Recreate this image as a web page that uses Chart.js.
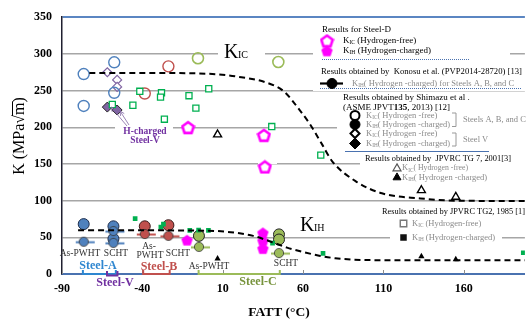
<!DOCTYPE html>
<html>
<head>
<meta charset="utf-8">
<script src="https://cdn.jsdelivr.net/npm/chart.js@4.4.0/dist/chart.umd.min.js"></script>
<style>
  html, body { margin: 0; padding: 0; background: #fff; }
</style>
</head>
<body>
<canvas id="kChart" width="532" height="323"></canvas>
<script>
// ── axes ──
const xTicks = [-90, -40, 10, 60, 110, 160];
const yTicks = [0, 50, 100, 150, 200, 250, 300, 350];

// ── Shimazu et al. (JPVT 2013): K_IC hydrogen-free (open) ──
const shimazuKicA = [[-76.5, 272.5], [-76.5, 229], [-57.5, 288.5], [-57.5, 247]];
const shimazuKicB = [[-38.5, 246], [-23.8, 283]];
const shimazuKicC = [[-5.4, 294], [44.6, 289]];
const shimazuKicV = [[-61.8, 275], [-55.7, 264.5], [-55.7, 255]];
// ── Shimazu et al.: K_IH hydrogen-charged (filled) ──
const shimazuKihA = [[-76.5, 68], [-58, 65], [-58, 48]];
const shimazuKihB = [[-38.5, 65], [-23.8, 66.5]];
const shimazuKihC = [[-4.8, 52], [45, 54], [45, 47]];
const shimazuKihV = [[-61.8, 227.5], [-55.7, 223.5]];
// ── Konosu et al. (PVP2014) K_IH ──
const konosuA = [[-76.5, 44], [-58, 58.5], [-58, 42.5]];
const konosuB = [[-38.5, 54.5], [-23.8, 52]];
const konosuC = [[-4.8, 37], [45, 28.5]];
// ── Steel-D ──
const steelDKic = [[-11.6, 199.5], [35.6, 189], [36.2, 146]];
const steelDKih = [[-12.2, 46], [35, 56], [35, 45], [35, 34.5]];
// ── JPVRC TG7 (2001) ──
const tg7Kic = [[6.8, 190], [133.6, 114], [155, 105]];
const tg7Kih = [[6.8, 21], [133.6, 24], [155, 20]];
// ── JPVRC TG2 (1985) ──
const tg2Kic = [[-58.7, 231], [-45.9, 230], [-41.6, 249], [-28.1, 247], [-28.7, 241], [-26.3, 211],
                [-11, 243], [-6.7, 226], [1.3, 252.5], [40.5, 201], [71, 162]];
const tg2Kih = [[-44.5, 75.5], [-28.5, 64], [-26.9, 68], [-10.5, 59.4], [-5, 59.8], [1.1, 59.4],
                [41, 42], [72.4, 28], [197, 29]];
// ── trend curves ──
const kicCurve = [[-73, 274], [-40, 274], [0, 273], [19, 269], [37, 261], [48, 249], [58, 223], [64, 205],
                  [72, 176], [78, 154], [93, 126], [109, 110], [133, 103], [154, 100], [198, 99.5]];
const kihCurve = [[-80, 59.5], [-40, 59.5], [0, 59], [15, 57], [29, 52], [40, 44], [50, 36], [60, 30],
                  [70, 25], [80, 21.5], [100, 19], [133, 18.6], [198, 18.6]];

const SERIF = '"Liberation Serif", "Times New Roman", serif';
const C = {
    blue: '#4f81bd', red: '#c0504d', olive: '#9bbb59', purple: '#8064a2',
    green: '#00b050', magenta: '#ff00ff', grid: '#a6a6a6', axisBlue: '#4a72b0'
};

const pts = a => a.map(p => ({ x: p[0], y: p[1] }));

// pentagon marker images
function pentagon(filled) {
    const c = document.createElement('canvas');
    c.width = 15; c.height = 15;
    const g = c.getContext('2d');
    g.beginPath();
    for (let i = 0; i < 5; i++) {
        const a = -Math.PI / 2 + i * 2 * Math.PI / 5;
        const px = 7.5 + 6 * Math.cos(a), py = 8 + 6 * Math.sin(a);
        i ? g.lineTo(px, py) : g.moveTo(px, py);
    }
    g.closePath();
    if (filled) { g.fillStyle = C.magenta; g.fill(); }
    else { g.fillStyle = '#fff'; g.fill(); g.lineWidth = 2.6; g.strokeStyle = C.magenta; g.stroke(); }
    return c;
}
// circle with a line through it (Konosu markers)
function barCircle(color) {
    const c = document.createElement('canvas');
    c.width = 28; c.height = 12;
    const g = c.getContext('2d');
    g.strokeStyle = color; g.lineWidth = 2;
    g.beginPath(); g.moveTo(6, 6.5); g.lineTo(25, 6.5); g.stroke();
    g.beginPath(); g.arc(14, 6, 4.6, 0, Math.PI * 2);
    g.fillStyle = color; g.fill();
    g.lineWidth = 0.8; g.strokeStyle = '#333'; g.stroke();
    return c;
}
const pentOpen = pentagon(false), pentFill = pentagon(true);

function marker(label, data, style, radius, fill, stroke, bw) {
    return {
        label, data: pts(data), showLine: false, pointStyle: style,
        pointRadius: radius, pointHoverRadius: radius,
        backgroundColor: fill, borderColor: stroke, pointBorderWidth: bw
    };
}
function curve(label, data) {
    return {
        type: 'line', label, data: pts(data), borderColor: '#000', borderWidth: 2,
        borderDash: [6, 4], pointRadius: 0, fill: false, cubicInterpolationMode: 'monotone'
    };
}

const datasets = [
    curve('KIC trend', kicCurve),
    curve('KIH trend', kihCurve),
    marker('TG2 KIC', tg2Kic, 'rect', 4.3, '#fff', C.green, 1.3),
    marker('TG2 KIH', tg2Kih, 'rect', 3.3, C.green, C.green, 0),
    marker('TG7 KIC', tg7Kic, 'triangle', 4.6, '#fff', '#000', 1.4),
    marker('TG7 KIH', tg7Kih, 'triangle', 3.6, '#000', '#000', 0),
    marker('A KIC', shimazuKicA, 'circle', 5.5, 'rgba(0,0,0,0)', C.blue, 1.4),
    marker('B KIC', shimazuKicB, 'circle', 5.5, 'rgba(0,0,0,0)', C.red, 1.4),
    marker('C KIC', shimazuKicC, 'circle', 5.5, 'rgba(0,0,0,0)', C.olive, 1.6),
    marker('V KIC', shimazuKicV, 'rectRot', 4.5, '#fff', C.purple, 1.2),
    marker('V KIH', shimazuKihV, 'rectRot', 5, C.purple, '#222', 1),
    marker('A Konosu', konosuA, barCircle(C.blue), 5, C.blue, C.blue, 0),
    marker('B Konosu', konosuB, barCircle(C.red), 5, C.red, C.red, 0),
    marker('C Konosu', konosuC, barCircle(C.olive), 5, C.olive, C.olive, 0),
    marker('A KIH', shimazuKihA, 'circle', 5.5, C.blue, '#1f2f4f', 1),
    marker('B KIH', shimazuKihB, 'circle', 5.5, C.red, '#3a1a1a', 1),
    marker('C KIH', shimazuKihC, 'circle', 5.5, C.olive, '#222', 1),
    marker('D KIC', steelDKic, pentOpen, 7, C.magenta, C.magenta, 0),
    marker('D KIH', steelDKih, pentFill, 7, C.magenta, C.magenta, 0)
];

// ── helpers for annotation text ──
function txt(ctx, s, x, y, size, color, opts) {
    opts = opts || {};
    ctx.font = (opts.bold ? 'bold ' : '') + size + 'px ' + SERIF;
    ctx.fillStyle = color;
    ctx.textAlign = opts.align || 'left';
    ctx.textBaseline = 'middle';
    if (opts.maxW) ctx.fillText(s, x, y, opts.maxW); else ctx.fillText(s, x, y);
    return ctx.measureText(s).width;
}
function kText(ctx, x, y, sub, rest, size, color, maxW) {
    ctx.save();
    let w = txt(ctx, 'K', x, y, size, color);
    let sw = txt(ctx, sub, x + w, y + size * 0.28, size * 0.62, color);
    const left = x + w + sw;
    txt(ctx, rest, left, y, size, color, { maxW: maxW ? maxW - (left - x) : undefined });
    ctx.restore();
}
function pointAt(ctx, style, r, fill, stroke, bw, x, y) {
    ctx.save();
    ctx.fillStyle = fill; ctx.strokeStyle = stroke; ctx.lineWidth = bw;
    Chart.helpers.drawPoint(ctx, { pointStyle: style, radius: r, rotation: 0, borderWidth: bw }, x, y);
    ctx.restore();
}
function arrow(ctx, x1, y1, x2, y2, color) {
    ctx.save();
    ctx.strokeStyle = color; ctx.lineWidth = 0.8;
    ctx.beginPath(); ctx.moveTo(x1, y1); ctx.lineTo(x2, y2); ctx.stroke();
    const a = Math.atan2(y2 - y1, x2 - x1);
    ctx.beginPath();
    ctx.moveTo(x2 - 5 * Math.cos(a - 0.45), y2 - 5 * Math.sin(a - 0.45));
    ctx.lineTo(x2, y2);
    ctx.lineTo(x2 - 5 * Math.cos(a + 0.45), y2 - 5 * Math.sin(a + 0.45));
    ctx.stroke();
    ctx.restore();
}
function bracket(ctx, xs, v0, v1, y0, y1, color) {
    const a = xs.getPixelForValue(v0), b = xs.getPixelForValue(v1);
    ctx.save();
    ctx.strokeStyle = color; ctx.lineWidth = 2;
    ctx.beginPath();
    ctx.moveTo(a, y0); ctx.lineTo(a, y1); ctx.lineTo(b, y1); ctx.lineTo(b, y0);
    ctx.stroke();
    ctx.restore();
}

const annotations = {
    id: 'annotations',
    beforeDatasetsDraw(chart) {
        const ctx = chart.ctx;
        ctx.save();
        ctx.fillStyle = '#fff';
        [[218, 40, 47, 20], [313, 22, 197, 38], [313, 63, 215, 28], [115, 118, 58, 30],
         [337, 92, 195, 60], [360, 152, 168, 30], [390, 204, 112, 40],
         [258, 121, 19, 6], [258, 158, 19, 6], [173, 121, 10, 6]]
            .forEach(r => ctx.fillRect(r[0], r[1], r[2], r[3]));
        ctx.restore();
    },
    afterDatasetsDraw(chart) {
        const ctx = chart.ctx, xs = chart.scales.x, area = chart.chartArea;
        ctx.save();

        // small tick marks on x axis
        ctx.strokeStyle = '#8c8c8c'; ctx.lineWidth = 1;
        xTicks.forEach(v => {
            const px = Math.round(xs.getPixelForValue(v)) + 0.5;
            ctx.beginPath(); ctx.moveTo(px, area.bottom); ctx.lineTo(px, area.bottom - 4); ctx.stroke();
        });

        // steel brackets along the x axis
        bracket(ctx, xs, -77, -56.5, 270, 274, '#2e86d0');
        bracket(ctx, xs, -62, -55.5, 271, 275.5, '#7030a0');
        bracket(ctx, xs, -39.5, -23, 270, 274, C.red);
        bracket(ctx, xs, -5, 45.5, 270, 274, C.olive);

        // K_IC / K_IH labels
        ctx.textBaseline = 'alphabetic'; ctx.textAlign = 'left'; ctx.fillStyle = '#000';
        ctx.font = '20px ' + SERIF; ctx.fillText('K', 224, 58);
        ctx.font = '10px ' + SERIF; ctx.fillText('IC', 238, 58);
        ctx.font = '20px ' + SERIF; ctx.fillText('K', 300, 231);
        ctx.font = '10px ' + SERIF; ctx.fillText('IH', 314, 231);

        // treatment labels
        const dk = '#333';
        txt(ctx, 'As-PWHT', 80, 253.5, 9.5, dk, { align: 'center' });
        txt(ctx, 'SCHT', 116, 253, 9.5, dk, { align: 'center' });
        txt(ctx, 'As-', 149, 246.5, 9.5, dk, { align: 'center' });
        txt(ctx, 'PWHT', 150, 255, 9.5, dk, { align: 'center' });
        txt(ctx, 'SCHT', 178, 253, 9.5, dk, { align: 'center' });
        txt(ctx, 'As-PWHT', 209, 266, 9.5, dk, { align: 'center' });
        txt(ctx, 'SCHT', 286, 263, 9.5, dk, { align: 'center' });

        // steel names
        txt(ctx, 'Steel-A', 98, 266, 12, '#2e86d0', { align: 'center', bold: true });
        txt(ctx, 'Steel-V', 115, 283, 12, '#7030a0', { align: 'center', bold: true });
        txt(ctx, 'Steel-B', 159, 267, 12, C.red, { align: 'center', bold: true });
        txt(ctx, 'Steel-C', 258, 282, 12, '#77933c', { align: 'center', bold: true });

        // H-charged Steel-V note
        txt(ctx, 'H-charged', 145, 131.5, 9.5, '#7030a0', { align: 'center', bold: true });
        txt(ctx, 'Steel-V', 145, 141, 9.5, '#7030a0', { align: 'center', bold: true });
        arrow(ctx, 127, 126, 111, 107, '#8064a2');
        arrow(ctx, 129, 125, 120, 111, '#8064a2');

        // Legend: Steel-D
        txt(ctx, 'Results for Steel-D', 322, 30, 9, '#000');
        ctx.drawImage(pentOpen, 319.5, 33.5);
        ctx.drawImage(pentFill, 319.5, 43.5);
        kText(ctx, 343, 40.5, 'IC', ' (Hydrogen-free)', 9, '#000');
        kText(ctx, 343, 50.5, 'IH', ' (Hydrogen-charged)', 9, '#000');
        ctx.save();
        ctx.strokeStyle = '#4a72b0'; ctx.lineWidth = 1; ctx.setLineDash([1, 1]);
        ctx.beginPath(); ctx.moveTo(322, 59.5); ctx.lineTo(470, 59.5); ctx.stroke();
        // Legend: Konosu
        ctx.beginPath(); ctx.moveTo(320, 88.5); ctx.lineTo(522, 88.5); ctx.stroke();
        ctx.restore();
        txt(ctx, 'Results obtained by  Konosu et al. (PVP2014-28720) [13]', 321, 71.5, 9, '#000', { maxW: 201 });
        ctx.save();
        ctx.strokeStyle = '#000'; ctx.lineWidth = 2.2;
        ctx.beginPath(); ctx.moveTo(320, 83.5); ctx.lineTo(343, 83.5); ctx.stroke();
        ctx.restore();
        pointAt(ctx, 'circle', 5, '#000', '#000', 1, 332, 83.5);
        kText(ctx, 352, 83.5, 'IH', '( Hydrogen -charged) for Steels A, B, and C', 8.5, '#8a8a8a', 170);

        // Legend: Shimazu
        txt(ctx, 'Results obtained by Shimazu et al .', 343, 97.5, 9, '#000');
        let w = txt(ctx, '(ASME JPVT', 343, 108, 9, '#000');
        let w2 = txt(ctx, '135', 343 + w, 108, 9, '#000', { bold: true });
        txt(ctx, ', 2013) [12]', 343 + w + w2, 108, 9, '#000');
        pointAt(ctx, 'circle', 4.5, '#fff', '#000', 2, 355, 115.5);
        pointAt(ctx, 'circle', 5, '#000', '#000', 1, 355, 124.5);
        pointAt(ctx, 'rectRot', 4.5, '#fff', '#000', 2, 355, 133.5);
        pointAt(ctx, 'rectRot', 5.5, '#000', '#000', 1, 355, 143.5);
        const gl = '#8a8a8a';
        kText(ctx, 366, 115.5, 'IC', '( Hydrogen -free)', 8.5, gl, 80);
        kText(ctx, 366, 124.5, 'IH', '( Hydrogen -charged)', 8.5, gl, 84);
        kText(ctx, 366, 133.5, 'IC', '( Hydrogen -free)', 8.5, gl, 80);
        kText(ctx, 366, 143.5, 'IH', '( Hydrogen -charged)', 8.5, gl, 84);
        ctx.save();
        ctx.strokeStyle = '#999'; ctx.lineWidth = 1;
        ctx.beginPath(); ctx.moveTo(452, 113); ctx.lineTo(456, 113); ctx.lineTo(456, 126.5); ctx.lineTo(452, 126.5); ctx.stroke();
        ctx.beginPath(); ctx.moveTo(452, 133); ctx.lineTo(456, 133); ctx.lineTo(456, 146); ctx.lineTo(452, 146); ctx.stroke();
        ctx.strokeStyle = '#4a72b0'; ctx.lineWidth = 1.2;
        ctx.beginPath(); ctx.moveTo(345, 151.5); ctx.lineTo(489, 151.5); ctx.stroke();
        ctx.restore();
        txt(ctx, 'Steels A, B, and C', 463, 119.5, 8.5, gl, { maxW: 67 });
        txt(ctx, 'Steel V', 463, 139.5, 8.5, gl);

        // Legend: JPVRC TG7
        txt(ctx, 'Results obtained by  JPVRC TG 7, 2001[3]', 365, 158.5, 9, '#000', { maxW: 146 });
        pointAt(ctx, 'triangle', 4.6, '#fff', '#555', 1.2, 397, 168.5);
        pointAt(ctx, 'triangle', 4.6, '#000', '#000', 1, 397, 177.5);
        kText(ctx, 402, 168, 'IC', '( Hydrogen -free)', 8.5, gl, 66);
        kText(ctx, 402, 177.5, 'IH', '( Hydrogen -charged)', 8.5, gl, 95);

        // Legend: JPVRC TG2
        txt(ctx, 'Results obtained by JPVRC TG2, 1985 [1]', 382, 211.5, 9, '#000', { maxW: 143 });
        pointAt(ctx, 'rect', 4.6, '#fff', '#777', 1.4, 403.5, 223.5);
        pointAt(ctx, 'rect', 4.6, '#111', '#111', 0, 403.5, 237.5);
        kText(ctx, 412, 223.5, 'IC', ' (Hydrogen-free)', 8.5, gl, 73);
        kText(ctx, 412, 237.5, 'IH', ' (Hydrogen-charged)', 8.5, gl, 88);

        // axis titles
        txt(ctx, 'FATT (\u00B0C)', 279, 313, 13.5, '#000', { align: 'center', bold: true });
        ctx.save();
        ctx.translate(20, 136);
        ctx.rotate(-Math.PI / 2);
        ctx.font = '16px ' + SERIF;
        const parts = ['K (MPa', '\u221A', 'm', ')'];
        const widths = parts.map(p => ctx.measureText(p).width);
        const total = widths.reduce((a, b) => a + b, 0);
        let cx = -total / 2;
        ctx.fillStyle = '#000'; ctx.textBaseline = 'middle'; ctx.textAlign = 'left';
        parts.forEach((p, i) => {
            ctx.fillText(p, cx, 0);
            if (p === 'm') {
                ctx.lineWidth = 1; ctx.strokeStyle = '#000';
                ctx.beginPath(); ctx.moveTo(cx - 1, -7.5); ctx.lineTo(cx + widths[i] + 1, -7.5); ctx.stroke();
            }
            cx += widths[i];
        });
        ctx.restore();

        ctx.restore();
    }
};

new Chart(document.getElementById('kChart'), {
    type: 'scatter',
    data: { datasets },
    options: {
        responsive: false,
        animation: false,
        devicePixelRatio: 1,
        layout: { padding: { top: 11, right: 0, left: 0, bottom: 0 } },
        plugins: { legend: { display: false }, tooltip: { enabled: false } },
        scales: {
            x: {
                type: 'linear', min: -90, max: 198,
                afterBuildTicks: s => { s.ticks = xTicks.map(v => ({ value: v })); },
                afterFit: s => { s.height = 49; },
                grid: { display: false, drawTicks: false },
                border: { display: true, color: C.axisBlue, width: 2 },
                ticks: { color: '#000', padding: 8, maxRotation: 0, font: { family: SERIF, size: 12, weight: 'bold' } }
            },
            y: {
                min: 0, max: 350,
                afterBuildTicks: s => { s.ticks = yTicks.map(v => ({ value: v })); },
                afterFit: s => { s.width = 62; },
                grid: {
                    drawTicks: false,
                    lineWidth: c => (c.tick && c.tick.value === 350) ? 2 : 1.5,
                    color: c => {
                        if (!c.tick) return C.grid;
                        if (c.tick.value === 350) return '#5b86c2';
                        if (c.tick.value === 0) return 'rgba(0,0,0,0)';
                        return C.grid;
                    }
                },
                border: { display: true, color: '#1f1f2f', width: 1.5 },
                ticks: { color: '#000', padding: 10, font: { family: SERIF, size: 12, weight: 'bold' } }
            }
        }
    },
    plugins: [annotations]
});
</script>
</body>
</html>
